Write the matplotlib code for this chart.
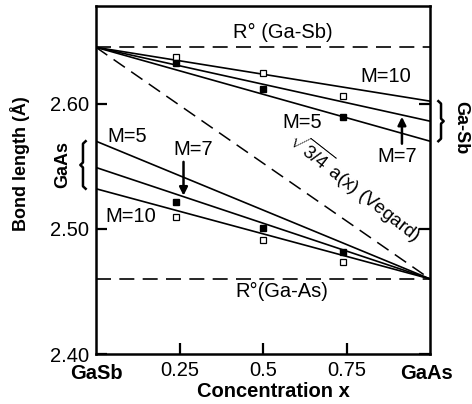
import matplotlib
matplotlib.use('Agg')
import matplotlib.pyplot as plt
import matplotlib.transforms as mtransforms

plt.rcParams['font.family'] = ['Liberation Sans', 'DejaVu Sans']
plt.rcParams['mathtext.fontset'] = 'custom'
plt.rcParams['mathtext.rm'] = 'Liberation Sans'
plt.rcParams['mathtext.it'] = 'Liberation Sans'

# bond lengths (Angstrom) vs concentration x in GaSb(1-x)As(x)
R_GaSb = 2.645
R_GaAs = 2.46

# model lines, Ga-Sb bonds end at x=1, Ga-As bonds start at x=0
M_labels = ['M=10', 'M=7', 'M=5']
gasb_end = [2.602, 2.586, 2.570]
gaas_start = [2.532, 2.549, 2.570]

# measured points
x_pts = [0.24, 0.5, 0.74]
gasb_open = [2.6376, 2.6248, 2.6064]
gasb_filled = [2.6328, 2.612, 2.5896]
gaas_filled = [2.5216, 2.5008, 2.4816]
gaas_open = [2.5096, 2.4912, 2.4736]

xticks = [0.25, 0.5, 0.75]
xticklabels = ['0.25', '0.5', '0.75']
yticks = [2.40, 2.50, 2.60]

fig = plt.figure(figsize=(4.72, 4.04), dpi=100)
ax = fig.add_axes([96/472, 50/404, 334/472, 348/404])

# reference bond lengths
ax.plot([0, 1], [R_GaSb, R_GaSb], 'k', lw=1.2, dashes=(9, 5))
ax.plot([0, 1], [R_GaAs, R_GaAs], 'k', lw=1.2, dashes=(9, 5))
# Vegard
ax.plot([0, 1], [R_GaSb, R_GaAs], 'k', lw=1.1, dashes=(9, 5))

for e in gasb_end:
    ax.plot([0, 1], [R_GaSb, e], 'k', lw=1.2)
for s in gaas_start:
    ax.plot([0, 1], [s, R_GaAs], 'k', lw=1.2)

ax.plot(x_pts, gasb_open, 's', ms=5, mfc='white', mec='k', mew=0.9)
ax.plot(x_pts, gasb_filled, 's', ms=5, mfc='k', mec='k')
ax.plot(x_pts, gaas_filled, 's', ms=5, mfc='k', mec='k')
ax.plot(x_pts, gaas_open, 's', ms=5, mfc='white', mec='k', mew=0.9)

fs = 14.5   # horizontal text
fv = 13     # vertical text
ax.text(0.56, 2.657, 'R° (Ga-Sb)', fontsize=fs, ha='center', va='center')
ax.text(0.557, 2.4496, 'R°(Ga-As)', fontsize=fs, ha='center', va='center')

ax.text(0.868, 2.6216, 'M=10', fontsize=fs, ha='center', va='center')
ax.text(0.617, 2.5848, 'M=5', fontsize=fs, ha='center', va='center')
ax.text(0.901, 2.5576, 'M=7', fontsize=fs, ha='center', va='center')
ax.annotate('', xy=(0.916, 2.5895), xytext=(0.916, 2.568),
            arrowprops=dict(arrowstyle='-|>', color='k', lw=1.8,
                            mutation_scale=12, shrinkA=0, shrinkB=0))

ax.text(0.093, 2.5736, 'M=5', fontsize=fs, ha='center', va='center')
ax.text(0.29, 2.563, 'M=7', fontsize=fs, ha='center', va='center')
ax.text(0.105, 2.5096, 'M=10', fontsize=fs, ha='center', va='center')
ax.annotate('', xy=(0.262, 2.5265), xytext=(0.262, 2.5535),
            arrowprops=dict(arrowstyle='-|>', color='k', lw=1.8,
                            mutation_scale=12, shrinkA=0, shrinkB=0))

ax.text(0.775, 2.533, r'$\sqrt{3/4}$ a(x) (Vegard)', fontsize=13.5,
        ha='center', va='center', rotation=-38, rotation_mode='anchor')

# braces showing the spread of the model lines
trans = mtransforms.blended_transform_factory(ax.transAxes, ax.transData)
lo, hi = min(gaas_start), max(gaas_start)
mid = (lo + hi) / 2
bx = -0.039
ax.plot([bx + 0.008, bx, bx, bx - 0.008, bx, bx, bx + 0.008],
        [hi, hi - 0.002, mid + 0.002, mid, mid - 0.002, lo + 0.002, lo],
        'k', lw=1.8, transform=trans, clip_on=False)
ax.text(-0.099, mid, 'GaAs', fontsize=fv, fontweight='bold', rotation=90,
        ha='center', va='center', transform=trans)

lo, hi = min(gasb_end), max(gasb_end)
mid = (lo + hi) / 2
bx = 1.033
ax.plot([bx - 0.008, bx, bx, bx + 0.008, bx, bx, bx - 0.008],
        [hi, hi - 0.002, mid + 0.002, mid, mid - 0.002, lo + 0.002, lo],
        'k', lw=1.8, transform=trans, clip_on=False)
ax.text(1.093, mid - 0.005, 'Ga-Sb', fontsize=fv, fontweight='bold', rotation=-90,
        ha='center', va='center', transform=trans)

ax.set_xlim(0, 1)
ax.set_ylim(2.40, 2.678)
ax.set_xticks(xticks)
ax.set_xticklabels(xticklabels)
ax.set_yticks(yticks)
ax.set_yticklabels(['%.2f' % v for v in yticks])
ax.tick_params(direction='in', length=8, width=1.6, labelsize=fs, pad=5,
               right=True)
for sp in ax.spines.values():
    sp.set_linewidth(1.8)

tb = mtransforms.blended_transform_factory(ax.transData, ax.transAxes)
ax.text(0.0, -0.057, 'GaSb', fontsize=fs, fontweight='bold',
        ha='center', va='center', transform=tb)
ax.text(0.99, -0.057, 'GaAs', fontsize=fs, fontweight='bold',
        ha='center', va='center', transform=tb)

ax.set_xlabel('Concentration x', fontsize=fs, fontweight='bold')
ax.xaxis.set_label_coords(0.53, -0.08)
ax.set_ylabel('Bond length (Å)', fontsize=fv, fontweight='bold')
ax.yaxis.set_label_coords(-0.198, 0.546)

fig.savefig('out.png', dpi=100)
